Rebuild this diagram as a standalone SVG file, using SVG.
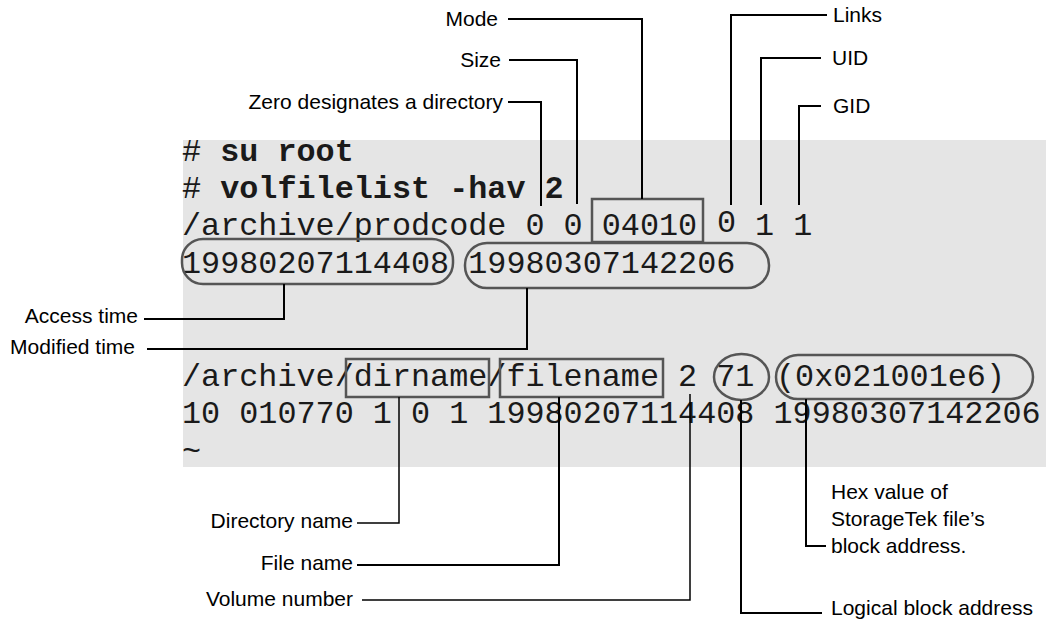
<svg xmlns="http://www.w3.org/2000/svg" width="1049" height="620" viewBox="0 0 1049 620">
<style>
.lbl{font-family:"Liberation Sans",Arial,sans-serif;font-size:21px;fill:#000}
.end{text-anchor:end}
.code{font-family:"Liberation Mono","Courier New",monospace;font-size:31.8px;fill:#1a1a1a;white-space:pre}
.b{font-weight:bold}
.box{fill:none;stroke:#555;stroke-width:2.5}
.conn path{fill:none;stroke:#000;stroke-width:2}
.conn path.thin{stroke-width:1.5}
</style>
<rect id="background" x="183" y="140" width="863" height="327" fill="#e5e5e5"/>
<g id="code">
<text class="code" x="182" y="161">#</text><text class="code b" x="220.2" y="161">su root</text>
<text class="code" x="182" y="198">#</text><text class="code b" x="220.2" y="198">volfilelist -hav 2</text>
<text class="code" x="182" y="235">/archive/prodcode 0 0 04010</text>
<text class="code" x="717" y="232">0</text>
<text class="code" x="755" y="235">1 1</text>
<text class="code" x="182" y="273">19980207114408 19980307142206</text>
<text class="code" x="182" y="386">/archive/dirname/filename 2 71</text>
<text class="code" x="776" y="386">(0x021001e6)</text>
<text class="code" x="182" y="423">10 010770 1 0 1 19980207114408 19980307142206</text>
<text class="code" x="182" y="461">~</text>
</g>
<g id="highlights">
<rect id="mode-box" class="box" x="592" y="199" width="111" height="43"/>
<rect id="atime-box" class="box" x="182" y="239" width="271" height="45" rx="21"/>
<rect id="mtime-box" class="box" x="465" y="243" width="304" height="45" rx="22"/>
<rect id="dirname-box" class="box" x="346" y="359" width="143" height="38"/>
<rect id="filename-box" class="box" x="500" y="359" width="163" height="38"/>
<ellipse id="lba-ellipse" class="box" cx="741.5" cy="377" rx="27.5" ry="23"/>
<rect id="hex-box" class="box" x="776" y="355" width="257" height="44" rx="22"/>
</g>
<g id="connectors" class="conn">
<path d="M508,19 H642 V199"/>
<path d="M509,60 H577 V204"/>
<path d="M508,102 H541 V206"/>
<path d="M827,15 H731 V205"/>
<path d="M821,58 H761 V205"/>
<path d="M821,106 H799 V205"/>
<path d="M144,319 H284 V284"/>
<path d="M147,349 H527 V288"/>
<path class="thin" d="M357,523 H399 V397"/>
<path d="M357,565 H559 V397"/>
<path class="thin" d="M362,600 H690 V394"/>
<path d="M822,613 H741 V400"/>
<path d="M826,546 H806 V399"/>
</g>
<g id="label-mode"><text class="lbl end" x="498" y="26">Mode</text></g>
<g id="label-size"><text class="lbl end" x="501" y="67">Size</text></g>
<g id="label-zero"><text class="lbl end" x="503" y="109">Zero designates a directory</text></g>
<g id="label-links"><text class="lbl" x="833" y="22">Links</text></g>
<g id="label-uid"><text class="lbl" x="832" y="65">UID</text></g>
<g id="label-gid"><text class="lbl" x="833" y="113">GID</text></g>
<g id="label-atime"><text class="lbl end" x="138" y="323">Access time</text></g>
<g id="label-mtime"><text class="lbl end" x="135" y="354">Modified time</text></g>
<g id="label-dirname"><text class="lbl end" x="353" y="528">Directory name</text></g>
<g id="label-filename"><text class="lbl end" x="353" y="570">File name</text></g>
<g id="label-volume"><text class="lbl end" x="353" y="606">Volume number</text></g>
<g id="label-hex"><text class="lbl" x="831" y="499">Hex value of</text><text class="lbl" x="831" y="526">StorageTek file’s</text><text class="lbl" x="831" y="553">block address.</text></g>
<g id="label-lba"><text class="lbl" x="831" y="615">Logical block address</text></g>
</svg>
